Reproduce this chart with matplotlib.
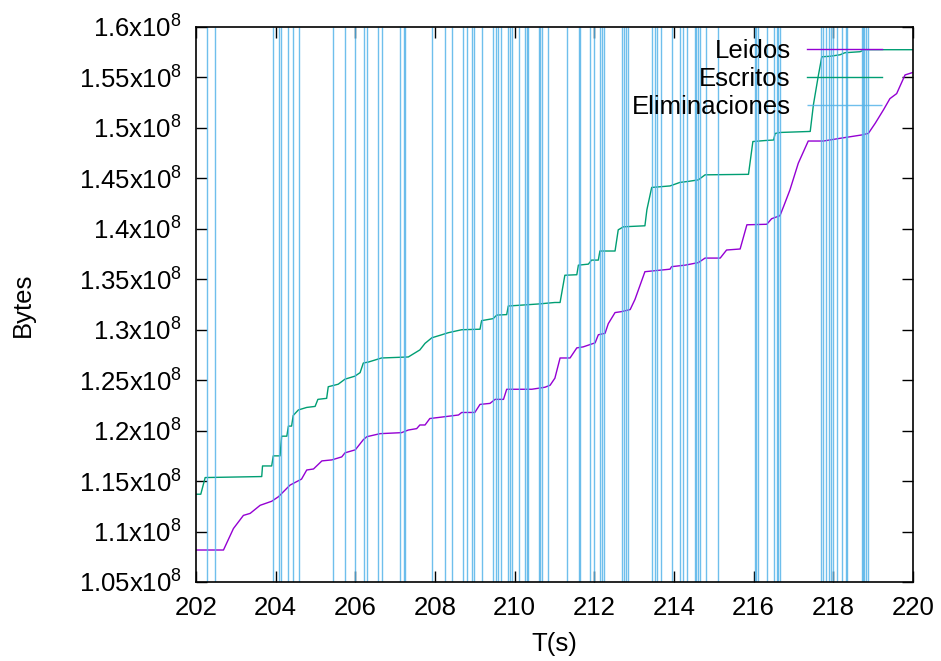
import matplotlib
matplotlib.use("Agg")
import matplotlib.pyplot as plt
from matplotlib.ticker import FixedLocator, FuncFormatter

plt.rcParams['font.family'] = ['Liberation Sans', 'DejaVu Sans']
plt.rcParams['mathtext.fontset'] = 'custom'
plt.rcParams['mathtext.rm'] = 'Liberation Sans'

# Leidos (bytes read)
leidos_t = [202.00, 202.69, 202.94, 203.19, 203.36, 203.61, 203.90, 204.07, 204.36, 204.65,
            204.78, 204.95, 205.16, 205.41, 205.66, 205.74, 206.00, 206.20, 206.29, 206.62,
            207.16, 207.33, 207.54, 207.62, 207.75, 207.87, 208.08, 208.59, 208.67, 209.00,
            209.13, 209.38, 209.51, 209.72, 209.80, 210.43, 210.76, 210.89, 211.01, 211.14,
            211.39, 211.56, 211.72, 212.02, 212.10, 212.27, 212.35, 212.52, 212.69, 212.90,
            213.02, 213.27, 213.90, 213.94, 214.28, 214.61, 214.78, 215.16, 215.32, 215.66,
            215.83, 216.33, 216.45, 216.66, 216.75, 216.91, 217.12, 217.37, 217.75, 218.17,
            218.71, 218.88, 219.05, 219.26, 219.42, 219.59, 219.80, 220.00]
leidos_b = [1.0817e8, 1.0817e8, 1.1030e8, 1.1160e8, 1.1180e8, 1.1260e8, 1.1300e8, 1.1345e8, 1.1460e8, 1.1520e8,
            1.1610e8, 1.1620e8, 1.1700e8, 1.1710e8, 1.1740e8, 1.1780e8, 1.1810e8, 1.1910e8, 1.1940e8, 1.1970e8,
            1.1980e8, 1.2006e8, 1.2020e8, 1.2056e8, 1.2056e8, 1.2120e8, 1.2130e8, 1.2155e8, 1.2180e8, 1.2180e8,
            1.2260e8, 1.2270e8, 1.2310e8, 1.2310e8, 1.2410e8, 1.2410e8, 1.2430e8, 1.2450e8, 1.2520e8, 1.2720e8,
            1.2720e8, 1.2820e8, 1.2830e8, 1.2870e8, 1.2950e8, 1.2965e8, 1.3060e8, 1.3170e8, 1.3180e8, 1.3200e8,
            1.3300e8, 1.3575e8, 1.3600e8, 1.3625e8, 1.3640e8, 1.3665e8, 1.3710e8, 1.3710e8, 1.3790e8, 1.3800e8,
            1.4040e8, 1.4045e8, 1.4100e8, 1.4130e8, 1.4220e8, 1.4385e8, 1.4650e8, 1.4870e8, 1.4870e8, 1.4897e8,
            1.4930e8, 1.4946e8, 1.5045e8, 1.5180e8, 1.5290e8, 1.5340e8, 1.5525e8, 1.5550e8]

# Escritos (bytes written)
escritos_t = [202.00, 202.12, 202.23, 203.65, 203.67, 203.90, 203.94, 204.11, 204.15, 204.28,
              204.32, 204.40, 204.44, 204.57, 204.78, 204.99, 205.06, 205.28, 205.32, 205.57,
              205.74, 205.99, 206.12, 206.20, 206.33, 206.66, 207.33, 207.62, 207.75, 207.92,
              208.17, 208.33, 208.67, 209.13, 209.17, 209.46, 209.55, 209.80, 209.84, 210.59,
              211.01, 211.14, 211.26, 211.56, 211.60, 211.85, 211.93, 212.10, 212.14, 212.52,
              212.60, 212.73, 213.27, 213.32, 213.44, 213.90, 214.15, 214.36, 214.61, 214.78,
              215.87, 215.98, 216.29, 216.50, 216.54, 216.67, 217.42, 217.50, 217.62, 217.71,
              217.92, 218.17, 218.29, 218.67, 218.79, 220.00]
escritos_b = [1.1370e8, 1.1370e8, 1.1535e8, 1.1545e8, 1.1650e8, 1.1650e8, 1.1750e8, 1.1750e8, 1.1945e8, 1.1945e8,
              1.2045e8, 1.2045e8, 1.2150e8, 1.2205e8, 1.2230e8, 1.2240e8, 1.2310e8, 1.2320e8, 1.2435e8, 1.2460e8,
              1.2510e8, 1.2540e8, 1.2575e8, 1.2670e8, 1.2680e8, 1.2720e8, 1.2730e8, 1.2800e8, 1.2865e8, 1.2920e8,
              1.2950e8, 1.2970e8, 1.3000e8, 1.3005e8, 1.3090e8, 1.3110e8, 1.3145e8, 1.3150e8, 1.3235e8, 1.3255e8,
              1.3270e8, 1.3270e8, 1.3540e8, 1.3545e8, 1.3640e8, 1.3650e8, 1.3690e8, 1.3690e8, 1.3780e8, 1.3780e8,
              1.3990e8, 1.4020e8, 1.4030e8, 1.4190e8, 1.4410e8, 1.4425e8, 1.4460e8, 1.4470e8, 1.4485e8, 1.4535e8,
              1.4540e8, 1.4865e8, 1.4875e8, 1.4880e8, 1.4945e8, 1.4955e8, 1.4965e8, 1.5230e8, 1.5510e8, 1.5705e8,
              1.5710e8, 1.5725e8, 1.5745e8, 1.5755e8, 1.5775e8, 1.5775e8]

# Eliminaciones (deletion instants)
elim_t = [202.27, 202.48, 203.93, 204.09, 204.13, 204.30, 204.43, 204.58, 205.44, 205.75,
          206.00, 206.22, 206.29, 206.56, 206.67, 207.11, 207.21, 207.25, 207.93, 208.24,
          208.42, 208.70, 208.81, 208.93, 208.97, 209.17, 209.45, 209.53, 209.58, 209.65,
          209.83, 209.88, 209.93, 210.12, 210.25, 210.30, 210.34, 210.60, 210.64, 210.69,
          210.83, 211.32, 211.61, 211.65, 211.88, 211.99, 212.15, 212.20, 212.24, 212.70,
          212.75, 212.80, 212.85, 213.45, 213.52, 213.58, 213.67, 213.94, 214.16, 214.23,
          214.32, 214.52, 214.55, 214.61, 214.66, 214.80, 215.11, 216.03, 216.07, 216.12,
          216.34, 216.52, 216.58, 216.62, 216.67, 217.69, 217.75, 217.81, 217.88, 217.94,
          218.00, 218.09, 218.21, 218.32, 218.35, 218.71, 218.74, 218.77, 218.82, 218.88]

x_ticks = [202, 204, 206, 208, 210, 212, 214, 216, 218, 220]
y_ticks = [1.05e8, 1.10e8, 1.15e8, 1.20e8, 1.25e8, 1.30e8, 1.35e8, 1.40e8, 1.45e8, 1.50e8, 1.55e8, 1.60e8]

FS = 18.5


def sci_label(v, pos):
    mant = f"{v / 1e8:.2f}".rstrip('0')
    return r"$\mathregular{" + mant + r"x10^{8}}$"


fig = plt.figure(figsize=(9.41, 6.61), dpi=100)
ax = fig.add_axes([196 / 941, 1 - 582 / 661, (913 - 196) / 941, (582 - 27) / 661])

ax.plot(leidos_t, leidos_b, color='#9400d3', lw=1.0, label='Leidos')
ax.plot(escritos_t, escritos_b, color='#009e73', lw=1.0, label='Escritos')
ax.vlines(elim_t, 0, 1, transform=ax.get_xaxis_transform(), color='#56b4e9',
          lw=1.0, alpha=0.85, label='Eliminaciones')

ax.set_xlim(202, 220)
ax.set_ylim(1.05e8, 1.6e8)
ax.xaxis.set_major_locator(FixedLocator(x_ticks))
ax.yaxis.set_major_locator(FixedLocator(y_ticks))
ax.yaxis.set_major_formatter(FuncFormatter(sci_label))
ax.tick_params(direction='in', top=True, right=True, length=8, width=1.0,
               labelsize=FS, pad=10)
for s in ax.spines.values():
    s.set_linewidth(1.2)

ax.set_xlabel('T(s)', fontsize=FS, labelpad=9)
ax.set_ylabel('Bytes', fontsize=FS, labelpad=32)

ax.legend(loc='upper right', bbox_to_anchor=(882 / 941, 1 - 39 / 661),
          bbox_transform=fig.transFigure, frameon=False, markerfirst=False,
          fontsize=FS, handlelength=2.9, handletextpad=0.65, labelspacing=0.15,
          borderpad=0, borderaxespad=0)

fig.savefig('out.png', dpi=100)
